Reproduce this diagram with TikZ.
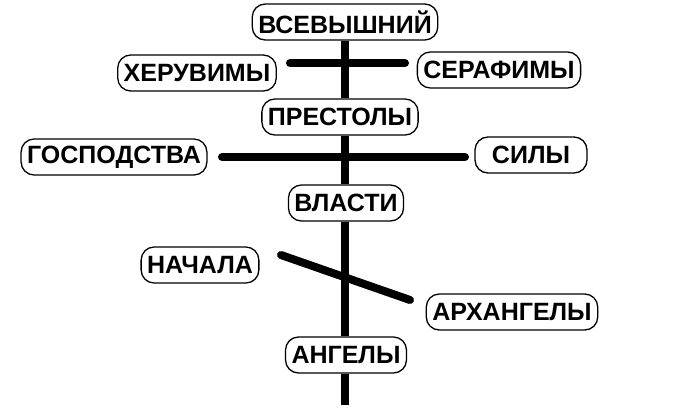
\documentclass[tikz,border=0pt]{standalone}
\usepackage{fontspec}
\setmainfont{Liberation Sans}
\usetikzlibrary{positioning}

\tikzset{rank/.style={draw,line width=1.3pt,rounded corners=13pt,minimum height=36pt,
    inner xsep=6pt,inner ysep=2pt,fill=white,font=\fontsize{25}{25}\selectfont\bfseries},
  bar/.style={line width=8pt,line cap=round}}

\begin{document}
\begin{tikzpicture}[x=1pt,y=-1pt]
\useasboundingbox (0,0) rectangle (693,415);

\node[rank] (god) at (345,22) {ВСЕВЫШНИЙ};
\node[rank] (cher) at (197,73) {ХЕРУВИМЫ};
\node[rank] (seraph) at (499,70) {СЕРАФИМЫ};
\node[rank] (thrones) at (340,117) {ПРЕСТОЛЫ};
\node[rank] (domin) at (114,157) {ГОСПОДСТВА};
\node[rank,minimum width=112pt] (virtues) at (531,155) {СИЛЫ};
\node[rank] (powers) at (346,203) {ВЛАСТИ};
\node[rank] (princ) at (200,265) {НАЧАЛА};
\node[rank] (arch) at (512,312) {АРХАНГЕЛЫ};
\node[rank] (angels) at (346,355) {АНГЕЛЫ};

\coordinate (foot) at (345,405);
\coordinate (b1l) at (290,63);  \coordinate (b1r) at (405,63);
\coordinate (b2l) at (222,157); \coordinate (b2r) at (465,157);
\coordinate (b3l) at (281,255); \coordinate (b3r) at (410,300);

% stem
\draw[line width=8pt] (god.south -| foot) -- (thrones.north -| foot)
  (thrones.south -| foot) -- (powers.north -| foot)
  (powers.south -| foot) -- (angels.north -| foot)
  (angels.south -| foot) -- (foot);

% cross bars
\draw[bar] (b1l) -- (b1r);
\draw[bar] (b2l) -- (b2r);
\draw[bar] (b3l) -- (b3r);
\end{tikzpicture}
\end{document}
